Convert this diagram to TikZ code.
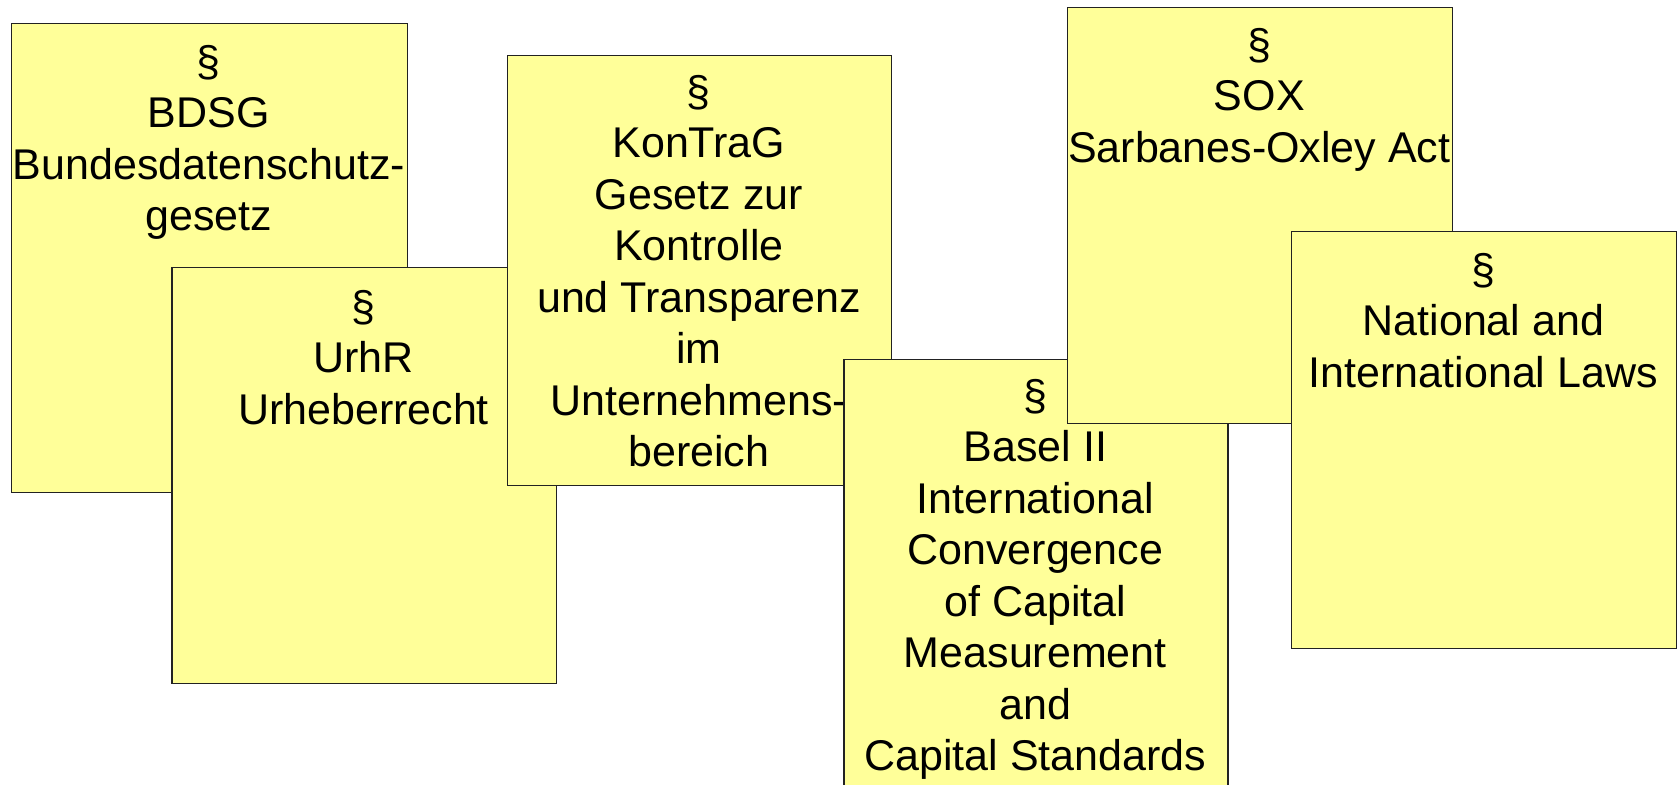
\documentclass[tikz,border=0pt]{standalone}
\usepackage{fontspec}
\setmainfont{Liberation Sans}
\definecolor{notefill}{HTML}{FFFF99}
\definecolor{noteline}{HTML}{222222}
\begin{document}
\begin{tikzpicture}[x=0.5pt,y=-0.5pt,
  note/.style={draw=noteline,fill=notefill,line width=0.6pt,rectangle,inner sep=0pt,anchor=north west},
  notetext/.style={anchor=north,inner sep=0pt,align=center,font=\fontsize{21.5pt}{25.75pt}\selectfont}]
\useasboundingbox (0,0) rectangle (1679,785);
\clip (0,0) rectangle (1679,785);
% 1 BDSG
\node[note,minimum width=198.15pt,minimum height=234.5pt] (bdsg) at (10.7,23) {};
\node[notetext] (bdsgt) at (208.85,36) {\rule{0pt}{20pt}§\\BDSG\\Bundesdatenschutz-\\gesetz};
% 2 UrhR
\node[note,minimum width=192.1pt,minimum height=207.85pt] (urhr) at (171.4,267.3) {};
\node[notetext] (urhrt) at (363.5,281) {\rule{0pt}{20pt}§\\UrhR\\Urheberrecht};
% 3 KonTraG
\node[note,minimum width=192.15pt,minimum height=215pt] (kontrag) at (506.7,55) {};
\node[notetext] (kontragt) at (698.85,66) {\rule{0pt}{20pt}§\\KonTraG\\Gesetz zur\\Kontrolle\\und Transparenz\\im\\Unternehmens-\\bereich};
% 4 Basel II
\node[note,minimum width=192pt,minimum height=220.5pt] (basel) at (843.3,359) {};
\node[notetext] (baselt) at (1035.3,370) {\rule{0pt}{20pt}§\\Basel II\\International\\Convergence\\of Capital\\Measurement\\and\\Capital Standards};
% 5 SOX
\node[note,minimum width=192.3pt,minimum height=208pt] (sox) at (1067,7.3) {};
\node[notetext] (soxt) at (1259.3,19) {\rule{0pt}{20pt}§\\SOX\\Sarbanes-Oxley Act};
% 6 National
\node[note,minimum width=192.35pt,minimum height=208.5pt] (natl) at (1291,231) {};
\node[notetext] (natlt) at (1483.35,244) {\rule{0pt}{20pt}§\\National and\\International Laws};
\end{tikzpicture}
\end{document}
